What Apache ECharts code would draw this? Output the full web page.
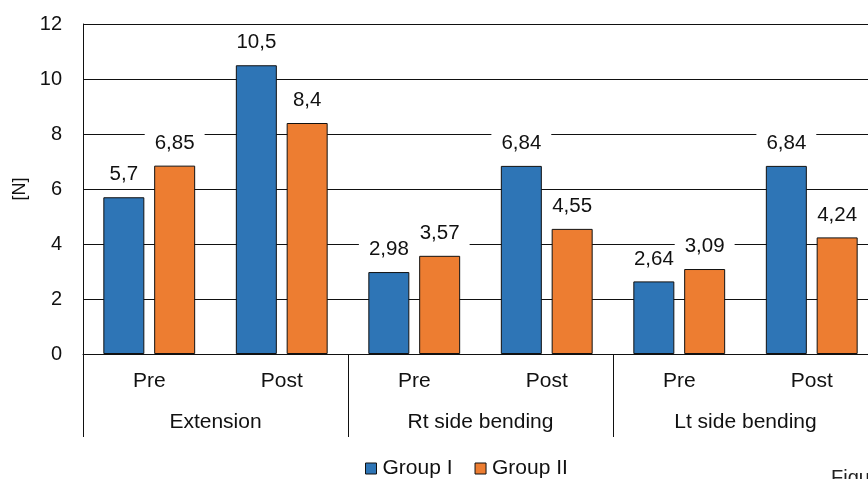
<!DOCTYPE html>
<html>
<head>
<meta charset="utf-8">
<script src="https://cdn.jsdelivr.net/npm/echarts@6/dist/echarts.min.js"></script>
<style>
html,body{margin:0;padding:0;background:#fff;}
#chart{width:868px;height:479px;}
</style>
</head>
<body>
<div id="chart"></div>
<script>
var phases = ["Pre", "Post", "Pre", "Post", "Pre", "Post"];
var movements = ["Extension", "Rt side bending", "Lt side bending"];
var groupI = [5.7, 10.5, 2.98, 6.84, 2.64, 6.84];
var groupII = [6.85, 8.4, 3.57, 4.55, 3.09, 4.24];
var seriesNames = ["Group I", "Group II"];
var yTicks = {min: 0, max: 12, interval: 2};

var font = "Liberation Sans, Arial, sans-serif";
var chart = echarts.init(document.getElementById('chart'));

function labelCfg() {
  return {
    show: true,
    position: 'top',
    distance: 9,
    fontFamily: font,
    fontSize: 20.5,
    color: '#111',
    backgroundColor: '#fff',
    padding: [3, 10, 3, 10],
    formatter: function (p) { return String(p.value).replace('.', ','); }
  };
}

chart.setOption({
  animation: false,
  backgroundColor: '#fff',
  textStyle: {fontFamily: font},
  title: {
    text: 'Figure',
    left: 831,
    top: 468,
    padding: 0,
    textStyle: {fontFamily: font, fontSize: 20, fontWeight: 'normal', color: '#222'}
  },
  grid: {left: 83, top: 24, right: -10, height: 330, containLabel: false, outerBoundsMode: 'none'},
  legend: {
    data: seriesNames,
    left: 360,
    top: 453,
    icon: 'rect',
    itemWidth: 11,
    itemHeight: 11,
    itemGap: 22,
    textStyle: {fontFamily: font, fontSize: 21, color: '#111', padding: [0, 0, 0, 1]},
    itemStyle: {borderColor: '#111', borderWidth: 1}
  },
  xAxis: [
    {
      type: 'category',
      data: phases,
      position: 'bottom',
      axisLine: {show: true, lineStyle: {color: '#111', width: 1}},
      axisTick: {show: false},
      axisLabel: {margin: 17, fontFamily: font, fontSize: 21, color: '#111', interval: 0}
    },
    {
      type: 'category',
      data: movements,
      position: 'bottom',
      axisLine: {show: false},
      axisTick: {show: true, length: 83, lineStyle: {color: '#111', width: 1}},
      axisLabel: {margin: 58, fontFamily: font, fontSize: 21, color: '#111', interval: 0},
      splitLine: {show: false}
    }
  ],
  yAxis: {
    type: 'value',
    min: yTicks.min,
    max: yTicks.max,
    interval: yTicks.interval,
    name: '[N]',
    nameLocation: 'middle',
    nameGap: 54,
    nameRotate: 90,
    nameTextStyle: {fontFamily: font, fontSize: 18, color: '#111'},
    axisLine: {show: true, lineStyle: {color: '#111', width: 1}},
    axisTick: {show: false},
    axisLabel: {margin: 21, fontFamily: font, fontSize: 20, color: '#111'},
    splitLine: {show: true, lineStyle: {color: '#111', width: 1}}
  },
  series: [
    {
      name: seriesNames[0],
      type: 'bar',
      data: groupI,
      barWidth: 41,
      barGap: '24%',
      itemStyle: {color: '#2E75B6', borderColor: '#111', borderWidth: 1},
      label: labelCfg()
    },
    {
      name: seriesNames[1],
      type: 'bar',
      data: groupII,
      barWidth: 41,
      barGap: '24%',
      itemStyle: {color: '#ED7D31', borderColor: '#111', borderWidth: 1},
      label: labelCfg()
    }
  ]
});
</script>
</body>
</html>
